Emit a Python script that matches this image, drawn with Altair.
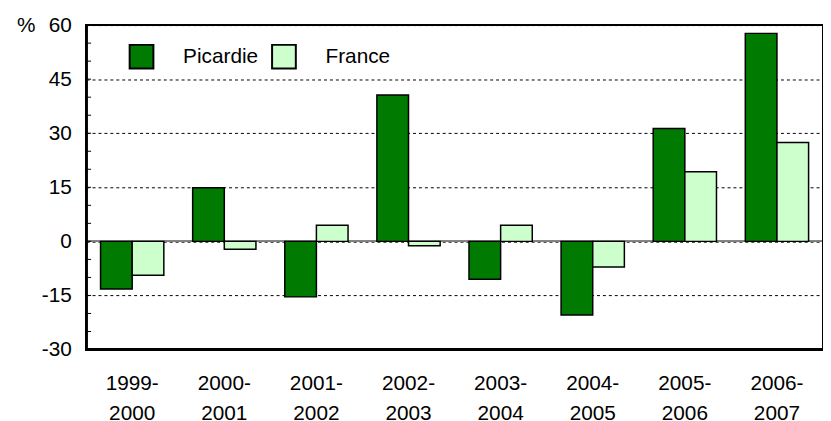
import altair as alt
import pandas as pd

periods = ["1999-2000", "2000-2001", "2001-2002", "2002-2003",
           "2003-2004", "2004-2005", "2005-2006", "2006-2007"]
picardie = [-13.2, 14.9, -15.4, 40.6, -10.5, -20.4, 31.3, 57.7]
france = [-9.4, -2.2, 4.5, -1.2, 4.5, -7.1, 19.3, 27.4]
series = ["Picardie", "France"]
colors = ["#007A00", "#CCFFCC"]
y_labels = [-30, -15, 0, 15, 30, 45, 60]
y_minor = [-30, -25, -20, -15, -10, -5, 0, 5, 10, 15, 20, 25, 30, 35, 40, 45, 50, 55, 60]

rows = []
for p, a, b in zip(periods, picardie, france):
    rows.append({"period": p, "series": "Picardie", "value": a})
    rows.append({"period": p, "series": "France", "value": b})
df = pd.DataFrame(rows)
minor_df = pd.DataFrame({"v": y_minor})

FONT = "Liberation Sans"
FS = 21
W, H = 745, 328

yscale = alt.Scale(domain=[-30, 60], nice=False, zero=False)

zero = alt.Chart(df).mark_rule(color="#808080", strokeWidth=1).encode(
    y=alt.datum(0, scale=yscale)
)

bars = alt.Chart(df).mark_bar(stroke="black", strokeWidth=1.5, opacity=1).encode(
    x=alt.X("period:N", sort=periods, title=None,
            scale=alt.Scale(paddingInner=0.313, paddingOuter=0.1565),
            axis=alt.Axis(
                labelExpr="[split(datum.label, '-')[0] + '-', split(datum.label, '-')[1]]",
                ticks=False, domain=False, labelAngle=0, labelFontSize=FS,
                labelFont=FONT, labelColor="black", labelPadding=23,
                labelLineHeight=31, labelBaseline="top")),
    xOffset=alt.XOffset("series:N", sort=series),
    y=alt.Y("value:Q", scale=yscale,
            axis=alt.Axis(values=y_labels, grid=True, gridDash=[3, 3],
                          gridColor="black", gridWidth=1, gridOpacity=1,
                          labelExpr="'' + datum.value",
                          ticks=False, domain=False, labelFontSize=FS,
                          labelFont=FONT, labelColor="black", labelPadding=15,
                          title="%", titleAngle=0, titleX=-61, titleY=0,
                          titleAlign="center", titleBaseline="middle",
                          titleFont=FONT, titleFontSize=FS,
                          titleFontWeight="normal", titleColor="black")),
    color=alt.Color("series:N", sort=series,
                    scale=alt.Scale(domain=series, range=colors),
                    legend=alt.Legend(orient="none", legendX=43, legendY=19,
                                      direction="horizontal", title=None,
                                      symbolType="square", symbolSize=576,
                                      symbolStrokeColor="black",
                                      symbolStrokeWidth=2, symbolOpacity=1,
                                      labelFontSize=FS, labelFont=FONT,
                                      labelColor="black", labelOffset=29,
                                      columnPadding=10, padding=0))
)

minor = alt.Chart(minor_df).mark_rule(color="black", strokeWidth=1).encode(
    y=alt.Y("v:Q", scale=yscale),
    x=alt.value(0),
    x2=alt.value(5),
)

frame = alt.Chart(minor_df).mark_rect(
    fill=None, fillOpacity=0, stroke="black", strokeWidth=2
).encode(
    x=alt.value(0), x2=alt.value("width"),
    y=alt.value(0), y2=alt.value("height"),
)

chart = alt.layer(zero, bars, minor, frame).properties(
    width=W, height=H,
    autosize=alt.AutoSizeParams(type="none"),
    padding={"left": 79, "top": 15, "right": 0, "bottom": 70},
).configure(
    background="white",
    view=alt.ViewConfig(stroke="black", strokeWidth=2),
)

chart.save("out.html", embed_options={"renderer": "svg", "actions": False})
